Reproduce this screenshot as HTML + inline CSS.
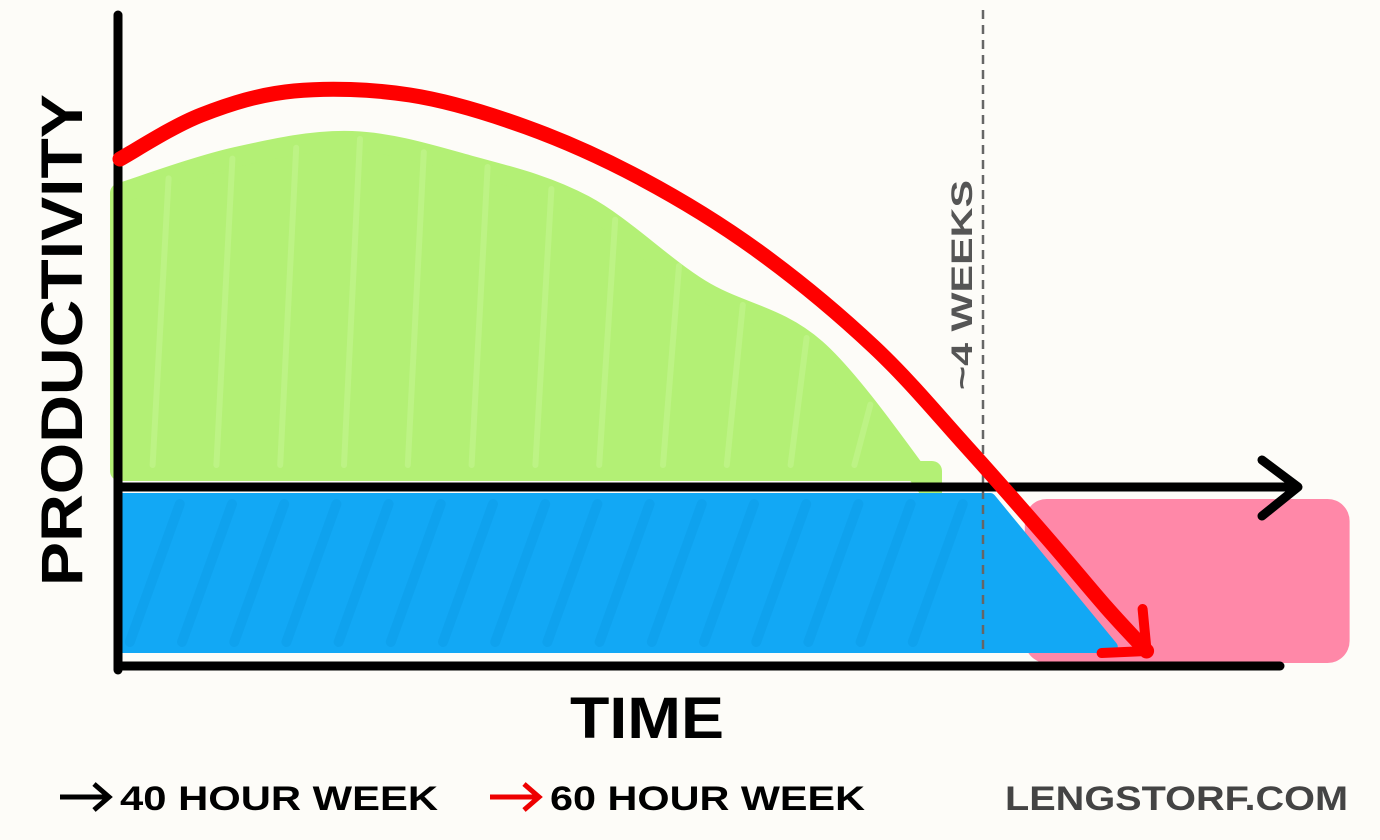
<!DOCTYPE html>
<html><head><meta charset="utf-8">
<style>
html,body{margin:0;padding:0;background:#fdfcf8;}
svg{display:block;}
text{font-family:"Liberation Sans",sans-serif;font-weight:bold;}
</style></head>
<body>
<svg id="chart" width="1380" height="840" viewBox="0 0 1380 840">
<rect width="1380" height="840" fill="#fdfcf8"/>
<g id="areas"></g>
<line x1="983" y1="10" x2="983" y2="655" stroke="#666" stroke-width="2.5" stroke-dasharray="9,6"/>
<text transform="translate(972,390) rotate(-90)" font-size="30" fill="#555" font-weight="normal" textLength="210" lengthAdjust="spacingAndGlyphs">~4 WEEKS</text>
<line x1="118" y1="15" x2="118" y2="670" stroke="#000" stroke-width="9" stroke-linecap="round"/>
<line x1="118" y1="487" x2="1295" y2="487" stroke="#000" stroke-width="9" stroke-linecap="round"/>
<polyline points="1262,460 1298,487 1262,516" fill="none" stroke="#000" stroke-width="9" stroke-linecap="round" stroke-linejoin="round"/>
<line x1="118" y1="666" x2="1280" y2="666" stroke="#000" stroke-width="9" stroke-linecap="round"/>
<g id="redline"></g>
<text transform="translate(82,586) rotate(-90)" font-size="58" fill="#000" textLength="492" lengthAdjust="spacingAndGlyphs">PRODUCTIVITY</text>
<text x="570" y="738" font-size="58" fill="#000" textLength="154" lengthAdjust="spacingAndGlyphs">TIME</text>
<g>
<line x1="60" y1="797" x2="108" y2="797" stroke="#000" stroke-width="5"/>
<polyline points="94,784 109,797 94,810" fill="none" stroke="#000" stroke-width="5"/>
<text x="120" y="810" font-size="34" fill="#000" textLength="318" lengthAdjust="spacingAndGlyphs">40 HOUR WEEK</text>
</g>
<g>
<line x1="490" y1="797" x2="538" y2="797" stroke="#e00" stroke-width="5"/>
<polyline points="524,784 539,797 524,810" fill="none" stroke="#e00" stroke-width="5"/>
<text x="550" y="810" font-size="34" fill="#000" textLength="315" lengthAdjust="spacingAndGlyphs">60 HOUR WEEK</text>
</g>
<text x="1005" y="810" font-size="34" fill="#444" textLength="343" lengthAdjust="spacingAndGlyphs">LENGSTORF.COM</text>
</svg>
<script>
const timeSteps=[0,0.7,1.5,2.5,3.5,4.5,5.5,6.5,7.3,8,8.5,8.85];
const sixtyHour=[82,93,99,98,90,77,59,35,10,-13,-30,-41];
const greenTime=[0,1,2,3,4,5,6,7];
const greenTop=[79,88,92,86,76,55,40,4];
const blueRange=[0,7.5,8.55,-3,-40];
const pinkRange=[7.8,10.6,-3,-44];
const NS="http://www.w3.org/2000/svg";
function xs(t){return 120+t*116;}
function ys(p){return 487-p*4;}
function mk(tag,attrs,parent){const e=document.createElementNS(NS,tag);for(const k in attrs)e.setAttribute(k,attrs[k]);parent.appendChild(e);return e;}
function interp(ts,vs,t){for(let i=0;i<ts.length-1;i++){if(t>=ts[i]&&t<=ts[i+1]){const f=(t-ts[i])/(ts[i+1]-ts[i]);return vs[i]+f*(vs[i+1]-vs[i]);}}return vs[vs.length-1];}
function smooth(pts){let d='M'+pts[0][0]+','+pts[0][1];for(let i=0;i<pts.length-1;i++){const p0=pts[Math.max(0,i-1)],p1=pts[i],p2=pts[i+1],p3=pts[Math.min(pts.length-1,i+2)];const c1=[p1[0]+(p2[0]-p0[0])/6,p1[1]+(p2[1]-p0[1])/6],c2=[p2[0]-(p3[0]-p1[0])/6,p2[1]-(p3[1]-p1[1])/6];d+='C'+c1[0]+','+c1[1]+' '+c2[0]+','+c2[1]+' '+p2[0]+','+p2[1];}return d;}
const areas=document.getElementById('areas');
// pink (behind)
const pp=mk('rect',{x:xs(pinkRange[0]),y:ys(pinkRange[2]),width:xs(pinkRange[1])-xs(pinkRange[0]),height:ys(pinkRange[3])-ys(pinkRange[2]),rx:22,fill:'#ff88a8'},areas);


// green scribble
const gEnd=greenTime[greenTime.length-1];
const gpts=greenTime.map((t,i)=>[xs(t),ys(greenTop[i])+22]);
const gd=smooth(gpts)+'L'+xs(gEnd)+','+ys(4)+'L'+xs(0)+','+ys(4)+'Z';
const gp=mk('path',{d:gd,fill:'#b3f075',stroke:'#b3f075','stroke-width':20,'stroke-linejoin':'round'},areas);


for(let t=0.35;t<=gEnd-0.2;t+=0.55){
  const top=interp(greenTime,greenTop,t);
  const s=mk('line',{x1:xs(t)-8,y1:ys(4)-6,x2:xs(t)+8,y2:ys(top)+20,stroke:'#c4f590','stroke-width':6,'stroke-linecap':'round',opacity:0.6},areas);
  
  
}
// blue
const bp=mk('polygon',{points:xs(blueRange[0])+','+ys(blueRange[3])+' '+xs(blueRange[1])+','+ys(blueRange[3])+' '+xs(blueRange[2])+','+ys(blueRange[4])+' '+xs(blueRange[0])+','+ys(blueRange[4]),fill:'#12a8f5',stroke:'#12a8f5','stroke-width':12,'stroke-linejoin':'round'},areas);


for(let t=0.3;t<blueRange[1];t+=0.45){
  const s=mk('line',{x1:xs(t)-25,y1:ys(blueRange[4])-5,x2:xs(t)+25,y2:ys(blueRange[3])+5,stroke:'#0e9ee8','stroke-width':10,'stroke-linecap':'round',opacity:0.5},areas);
  
  
}
// red line
const rl=document.getElementById('redline');
const rpts=timeSteps.map((t,i)=>[xs(t),ys(sixtyHour[i])]);
const path=mk('path',{d:smooth(rpts),fill:'none',stroke:'#f00','stroke-width':15,'stroke-linecap':'round','stroke-linejoin':'round'},rl);


const n=timeSteps.length;
const ex=xs(timeSteps[n-1]),ey=ys(sixtyHour[n-1]);
const ah=mk('polyline',{points:(ex-45)+','+(ey+2)+' '+ex+','+ey+' '+(ex-4)+','+(ey-42),fill:'none',stroke:'#f00','stroke-width':10,'stroke-linecap':'round','stroke-linejoin':'round'},rl);


</script>
</body></html>
